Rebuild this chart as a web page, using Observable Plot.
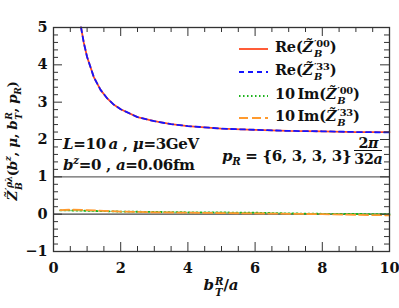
<!DOCTYPE html>
<html><head><meta charset="utf-8">
<script src="https://cdn.jsdelivr.net/npm/d3@7"></script>
<script src="https://cdn.jsdelivr.net/npm/@observablehq/plot@0.6"></script>
<style>
body{margin:0;background:#fff;}
#wrap{position:relative;width:399px;height:308px;font-family:"DejaVu Serif",serif;font-weight:bold;color:#111;}
.ov{position:absolute;white-space:nowrap;font-size:15px;line-height:1;}
.ss{display:inline-flex;flex-direction:column;vertical-align:0.5em;font-size:0.68em;line-height:1.05;margin-left:1px;}
.ss span{display:block;}
.frac{display:inline-flex;flex-direction:column;vertical-align:13px;text-align:center;line-height:1.0;margin-left:3px;font-size:0.95em;}
.frac span:last-child{border-top:1.3px solid #111;padding-top:1px;}
sup,sub{font-size:0.68em;line-height:0;}
</style></head><body><div id="wrap"></div>
<script>
// Data
const bT   = [0.82, 0.9, 1.0, 1.2, 1.4, 1.6, 1.8, 2.0, 2.5, 3, 3.5, 4, 5, 6, 7, 8, 9, 10];
const re00 = [5.00, 4.60, 4.21, 3.67, 3.33, 3.10, 2.93, 2.81, 2.60, 2.49, 2.41, 2.36, 2.29, 2.26, 2.23, 2.22, 2.20, 2.20];
const re33 = [5.00, 4.60, 4.21, 3.67, 3.33, 3.10, 2.93, 2.81, 2.60, 2.49, 2.41, 2.36, 2.29, 2.26, 2.23, 2.22, 2.20, 2.19];
const bTim = [0.2, 0.5, 1, 1.5, 2, 3, 4, 5, 6, 7, 8, 9, 10];
const im00 = [0.10, 0.10, 0.09, 0.08, 0.07, 0.06, 0.05, 0.045, 0.04, 0.02, 0.01, 0.005, 0.0];
const im33 = [0.11, 0.12, 0.11, 0.09, 0.07, 0.05, 0.04, 0.03, 0.02, 0.01, 0.0, -0.02, -0.03];
const xMajor = [0, 2, 4, 6, 8, 10];
const xMinor = [0.5, 1, 1.5, 2.5, 3, 3.5, 4.5, 5, 5.5, 6.5, 7, 7.5, 8.5, 9, 9.5];
const yMajor = [-1, 0, 1, 2, 3, 4, 5];
const yMinor = d3.range(-1, 5.0001, 0.2).map(v => +v.toFixed(1)).filter(v => !Number.isInteger(v));
const refLines = [0, 1];

const W = 399, H = 308, mL = 53, mR = 10, mT = 27, mB = 57;
const iW = W - mL - mR, iH = H - mT - mB;

const rows = (xs, ys) => xs.map((x, i) => ({x, y: ys[i]}));
const dRe00 = rows(bT, re00), dRe33 = rows(bT, re33);
const dIm00 = rows(bTim, im00), dIm33 = rows(bTim, im33);

const tickCol = "#333";
const chart = Plot.plot({
  width: W, height: H, marginLeft: mL, marginRight: mR, marginTop: mT, marginBottom: mB,
  x: {domain: [0, 10]},
  y: {domain: [-1, 5]},
  style: {fontFamily: "'DejaVu Serif', serif", fontWeight: "bold", fontSize: "14px", color: "#111", background: "#fff"},
  marks: [
    Plot.ruleY(refLines, {y: d => d, stroke: d => d === 1 ? "#666" : "#444", strokeWidth: 1.4}),
    Plot.line(dIm00, {x: "x", y: "y", stroke: "#1db31d", strokeWidth: 1.8, strokeDasharray: "1.5,2.5"}),
    Plot.line(dIm33, {x: "x", y: "y", stroke: "#ff9a2e", strokeWidth: 1.8, strokeDasharray: "9,4"}),
    Plot.line(dRe00, {x: "x", y: "y", stroke: "#ff4a22", strokeWidth: 1.8}),
    Plot.line(dRe33, {x: "x", y: "y", stroke: "#1414ff", strokeWidth: 1.8, strokeDasharray: "5,4"}),
    Plot.frame({stroke: tickCol, strokeWidth: 1.3}),
    Plot.tickX(xMajor, {x: d => d, insetTop: iH - 9, stroke: tickCol}),
    Plot.tickX(xMajor, {x: d => d, insetBottom: iH - 9, stroke: tickCol}),
    Plot.tickX(xMinor, {x: d => d, insetTop: iH - 5, stroke: tickCol}),
    Plot.tickX(xMinor, {x: d => d, insetBottom: iH - 5, stroke: tickCol}),
    Plot.tickY(yMajor, {y: d => d, insetRight: iW - 9, stroke: tickCol}),
    Plot.tickY(yMajor, {y: d => d, insetLeft: iW - 9, stroke: tickCol}),
    Plot.tickY(yMinor, {y: d => d, insetRight: iW - 5, stroke: tickCol}),
    Plot.tickY(yMinor, {y: d => d, insetLeft: iW - 5, stroke: tickCol}),
    Plot.axisX(xMajor, {tickSize: 0, tickPadding: 11, fontSize: 14.5, label: null}),
    Plot.axisY(yMajor, {tickSize: 0, tickPadding: 6, fontSize: 14.5, label: null})
  ]
});
const wrap = document.getElementById("wrap");
wrap.appendChild(chart);

const Zt = (sup, sub) => `<i>Z&#771;</i><span class="ss"><span>${sup}</span><span>${sub}</span></span>`;
function ov(html, style) {
  const d = document.createElement("div");
  d.className = "ov";
  d.innerHTML = html;
  Object.assign(d.style, style);
  wrap.appendChild(d);
  return d;
}
// legend
const legend = [
  {text: `Re(${Zt("&#8242;00", "<i>B</i>")})`, stroke: "#ff4a22", dash: "none"},
  {text: `Re(${Zt("&#8242;33", "<i>B</i>")})`, stroke: "#1414ff", dash: "5,4"},
  {text: `10&thinsp;Im(${Zt("&#8242;00", "<i>B</i>")})`, stroke: "#1db31d", dash: "1.5,2.5"},
  {text: `10&thinsp;Im(${Zt("&#8242;33", "<i>B</i>")})`, stroke: "#ff9a2e", dash: "9,4"}
];
const legY = [49, 72, 96, 118];
legend.forEach((e, i) => {
  ov(`<svg width="30" height="4" style="display:block"><line x1="0" x2="29" y1="2" y2="2" stroke="${e.stroke}" stroke-width="1.8" stroke-dasharray="${e.dash}"/></svg>`,
     {left: "239px", top: (legY[i] - 2) + "px"});
  ov(e.text, {left: "275px", top: (legY[i] - 10) + "px", fontSize: "14.5px", letterSpacing: "-0.2px"});
});
// annotations
ov(`<i>L</i>=10&thinsp;<i>a</i> , <i>μ</i>=3GeV`, {left: "63px", top: "137px", letterSpacing: "-0.3px"});
ov(`<i>b</i><sup><i>z</i></sup>=0 , <i>a</i>=0.06fm`, {left: "63px", top: "158px", letterSpacing: "-0.3px"});
ov(`<i>p<sub>R</sub></i> = {6, 3, 3, 3}<span class="frac"><span>2<i>π</i></span><span>32<i>a</i></span></span>`, {left: "222px", top: "136px", letterSpacing: "-0.3px"});
// axis labels
ov(`<i>b</i><span class="ss"><span><i>R</i></span><span><i>T</i></span></span>/<i>a</i>`, {left: "221px", top: "287px", transform: "translate(-50%,-50%)"});
ov(`${Zt("&#8242;<i>ρλ</i>", "<i>B</i>")}(<i>b</i><sup><i>z</i></sup>, <i>μ</i>, <i>b</i><span class="ss"><span><i>R</i></span><span><i>T</i></span></span>, <i>p<sub>R</sub></i>)`,
   {left: "14px", top: "141px", transform: "translate(-50%,-50%) rotate(-90deg)", fontSize: "13.5px", letterSpacing: "-0.4px"});
</script></body></html>
